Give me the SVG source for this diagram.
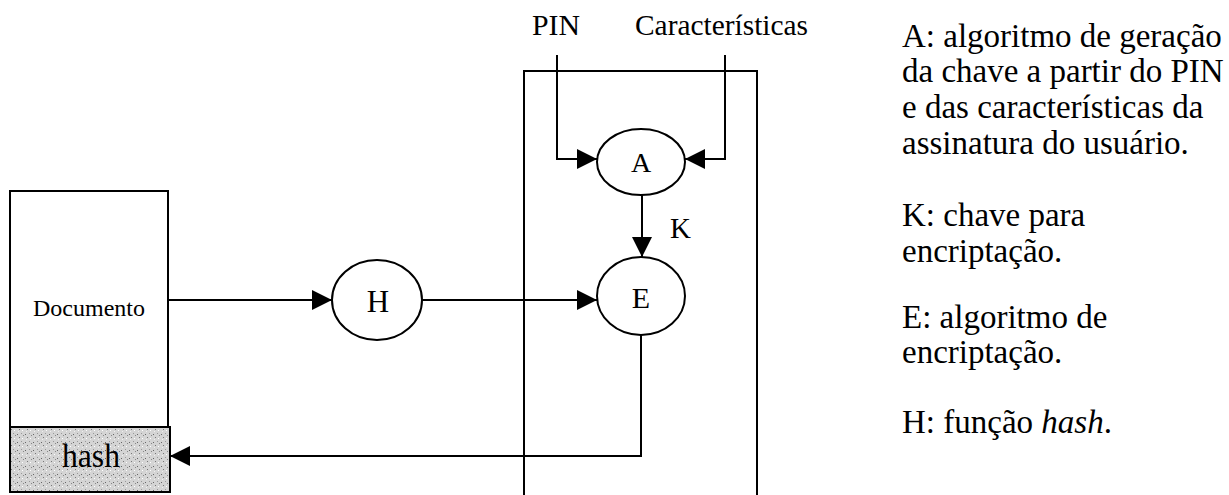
<svg xmlns="http://www.w3.org/2000/svg" width="1229" height="495" viewBox="0 0 1229 495">
<style>
.ln{fill:none;stroke:#000;stroke-width:2}
.nd{fill:#fff;stroke:#000;stroke-width:2}
.t{font-family:"Liberation Serif","Times New Roman",serif;fill:#000}
.note{font-family:"Liberation Serif","Times New Roman",serif;font-size:33px;fill:#000}
</style>
<defs>
<marker id="ah" markerUnits="userSpaceOnUse" markerWidth="20" markerHeight="20" refX="20" refY="10" orient="auto">
<path d="M0,0 L20,10 L0,20 z" fill="#000"/>
</marker>
<pattern id="stip" width="8" height="8" patternUnits="userSpaceOnUse">
<rect width="8" height="8" fill="#d4d4d4"/>
<rect x="1" y="2" width="1" height="1" fill="#666"/>
<rect x="5" y="1" width="1" height="1" fill="#999"/>
<rect x="3" y="5" width="1" height="1" fill="#777"/>
<rect x="6" y="6" width="1" height="1" fill="#fff"/>
<rect x="2" y="7" width="1" height="1" fill="#eee"/>
<rect x="7" y="3" width="1" height="1" fill="#888"/>
</pattern>
</defs>

<g id="container">
<path class="ln" d="M524,496 V71 H757 V496"/>
</g>

<g id="documento">
<rect class="nd" x="10" y="191" width="158" height="236"/>
<text class="t" x="89" y="316" font-size="24" text-anchor="middle" textLength="112" lengthAdjust="spacingAndGlyphs">Documento</text>
</g>

<g id="hash">
<rect x="10" y="427" width="160" height="65" fill="url(#stip)" stroke="#000" stroke-width="2"/>
<text class="t" x="91" y="467" font-size="34" text-anchor="middle" textLength="58" lengthAdjust="spacingAndGlyphs">hash</text>
</g>

<g id="node-H">
<ellipse class="nd" cx="377" cy="300" rx="45" ry="40"/>
<text class="t" x="378" y="312" font-size="31" text-anchor="middle">H</text>
</g>

<g id="node-A">
<ellipse class="nd" cx="641" cy="162" rx="44" ry="33"/>
<text class="t" x="641" y="172" font-size="28" text-anchor="middle">A</text>
</g>

<g id="node-E">
<ellipse class="nd" cx="641" cy="296" rx="44" ry="39"/>
<text class="t" x="641" y="308" font-size="30" text-anchor="middle">E</text>
</g>

<g id="connectors">
<path class="ln" d="M557,55 V159 H597" marker-end="url(#ah)"/>
<path class="ln" d="M725,55 V159 H685" marker-end="url(#ah)"/>
<path class="ln" d="M642,195 V257" marker-end="url(#ah)"/>
<path class="ln" d="M168,300 H332" marker-end="url(#ah)"/>
<path class="ln" d="M422,300 H597" marker-end="url(#ah)"/>
<path class="ln" d="M641,335 V456 H170" marker-end="url(#ah)"/>
</g>

<g id="labels">
<text class="t" x="532" y="35" font-size="30" textLength="48" lengthAdjust="spacingAndGlyphs">PIN</text>
<text class="t" x="635" y="35" font-size="29" textLength="173" lengthAdjust="spacingAndGlyphs">Características</text>
<text class="t" x="670" y="238" font-size="29">K</text>
</g>

<g id="legend">
<text class="note" x="902" y="47">A: algoritmo de geração</text>
<text class="note" x="902" y="82">da chave a partir do PIN</text>
<text class="note" x="902" y="118">e das características da</text>
<text class="note" x="902" y="154">assinatura do usuário.</text>
<text class="note" x="902" y="226">K: chave para</text>
<text class="note" x="902" y="262">encriptação.</text>
<text class="note" x="902" y="328">E: algoritmo de</text>
<text class="note" x="902" y="363">encriptação.</text>
<text class="note" x="902" y="433">H: função <tspan font-style="italic">hash</tspan>.</text>
</g>
</svg>
